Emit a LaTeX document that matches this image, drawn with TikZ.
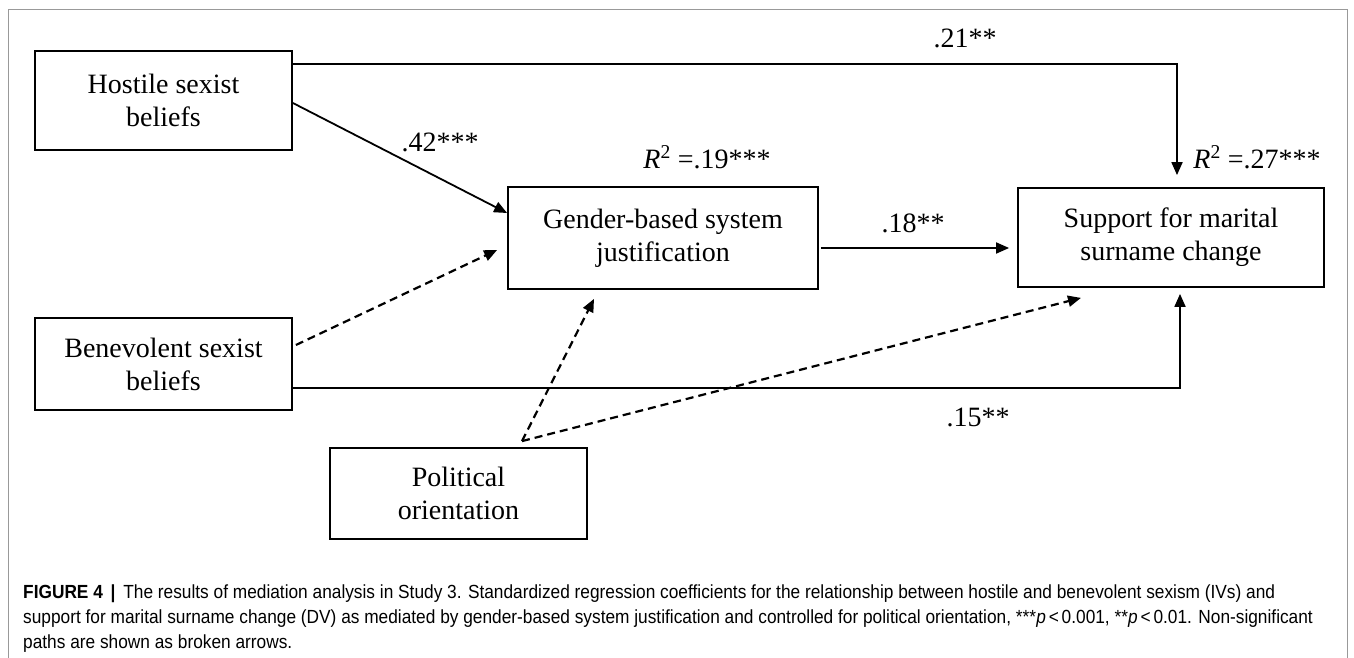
\documentclass[tikz,border=0pt]{standalone}
\usepackage{fontspec}
\usepackage{graphicx}
\setmainfont{Liberation Serif}
\newfontfamily\capfont{Liberation Sans}
\usetikzlibrary{arrows.meta}
\newsavebox\mycapbox
\newlength\mycapw
\newcommand\mycapsize{\capfont\fontsize{19}{25}\selectfont}
\newcommand\mylineone{\textbf{FIGURE 4}\hspace{0.45em}\textbf{|}\hspace{0.45em}The results of mediation analysis in Study 3. Standardized regression coefficients for the relationship between hostile and benevolent sexism (IVs) and}
\newcommand\mylinetwo{support for marital surname change (DV) as mediated by gender-based system justification and controlled for political orientation, ***\textit{p}\,<\,0.001, **\textit{p}\,<\,0.01. Non-significant}
\newcommand\mylinethree{paths are shown as broken arrows.}
\begin{document}
\sbox\mycapbox{\mycapsize\mylineone}%
\setlength\mycapw{\wd\mycapbox}%
\pgfmathsetmacro\caprat{1252/\mycapw}%
\xdef\caprat{\caprat}%
\begin{tikzpicture}[x=1pt,y=-1pt,
  box/.style={draw, line width=1.8pt, align=center, inner sep=0pt, font=\fontsize{28}{33}\selectfont},
  arr/.style={line width=1.8pt, -{Triangle[length=13pt,width=11pt]}},
  darr/.style={arr, line width=2.2pt, dash pattern=on 8pt off 5pt},
  lab/.style={font=\fontsize{28}{33}\selectfont, inner sep=0pt},
  capt/.style={anchor=base west, inner sep=0pt, font=\mycapsize}]
\useasboundingbox (0,0) rectangle (1354,658);
\draw[black!40, line width=0.8pt] (8,658) -- (8,9) -- (1347,9) -- (1347,658);

% boxes
\node[box, minimum width=257pt, minimum height=99pt] (hostile) at (163.5,100.5) {Hostile sexist\\beliefs};
\node[box, minimum width=257pt, minimum height=92pt] (benev) at (163.5,364) {Benevolent sexist\\beliefs};
\node[box, minimum width=310pt, minimum height=102pt] (gender) at (663,238) {Gender-based system\\justification};
\node[box, minimum width=306pt, minimum height=99pt] (support) at (1171,237.5) {Support for marital\\surname change};
\node[box, minimum width=257pt, minimum height=91pt] (polit) at (458.5,493.5) {Political\\orientation};

% helper coordinates
\coordinate (po) at ([yshift=6pt]polit.north -| 522,0);
\coordinate (topin) at ([yshift=12pt]support.north -| 1177,0);
\coordinate (botin) at ([yshift=-6pt]support.south -| 1180,0);

% solid paths
\draw[arr] (hostile.east |- 0,64) -| (topin);
\draw[arr] (hostile.east |- 0,103) -- (gender.west |- 0,213);
\draw[arr] ([xshift=2pt]gender.east |- 0,248) -- ([xshift=-8pt]support.west |- 0,248);
\draw[arr] (benev.east |- 0,388) -| (botin);

% dashed paths
\draw[darr] ([xshift=3pt]benev.east |- 0,345) -- ([xshift=-10pt]gender.west |- 0,250);
\draw[darr] (po) -- ([yshift=-9pt]gender.south -| 594,0);
\draw[darr] (po) -- ([yshift=-10pt]support.south -| 1081,0);

% labels
\node[lab] (l21) at (965,38) {.21**};
\node[lab] (l42) at (440,142) {.42***};
\node[lab] (l18) at (913,223) {.18**};
\node[lab] (l15) at (978,417) {.15**};
\node[lab, anchor=base] (r19) at (707,168) {\textit{R}\textsuperscript{2} =.19***};
\node[lab, anchor=base] (r27) at (1257,168) {\textit{R}\textsuperscript{2} =.27***};

% caption
\node[capt] (cap1) at (23,598) {\scalebox{\caprat}[1]{\mylineone}};
\node[capt] (cap2) at (23,623) {\scalebox{\caprat}[1]{\mylinetwo}};
\node[capt] (cap3) at (23,648) {\scalebox{\caprat}[1]{\mylinethree}};
\end{tikzpicture}
\end{document}
